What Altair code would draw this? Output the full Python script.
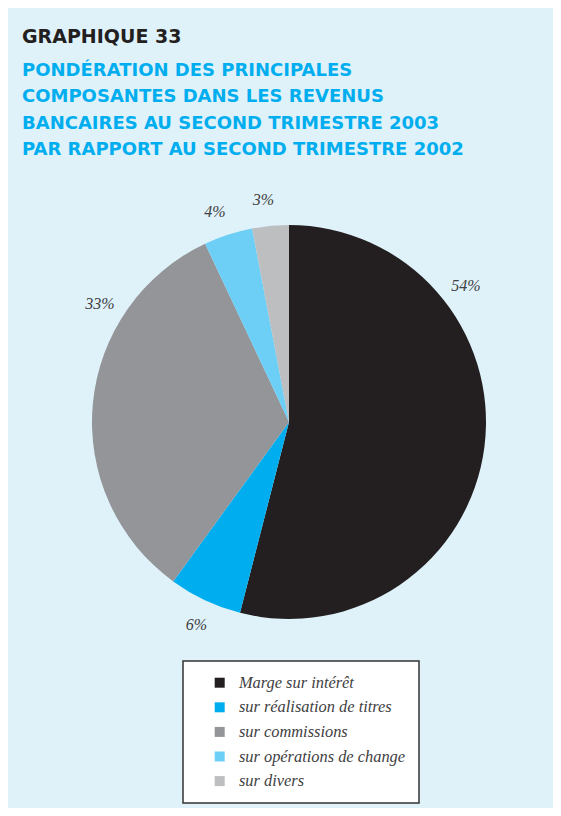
import altair as alt
import pandas as pd

# ---- data ----
categories = [
    "Marge sur intérêt",
    "sur réalisation de titres",
    "sur commissions",
    "sur opérations de change",
    "sur divers",
]
shares = [54, 6, 33, 4, 3]
share_labels = ["54%", "6%", "33%", "4%", "3%"]
colors = ["#231f20", "#00aeef", "#939598", "#6dcff6", "#bcbec0"]

title_text = "GRAPHIQUE 33"
subtitle_lines = [
    "PONDÉRATION DES PRINCIPALES",
    "COMPOSANTES DANS LES REVENUS",
    "BANCAIRES AU SECOND TRIMESTRE 2003",
    "PAR RAPPORT AU SECOND TRIMESTRE 2002",
]

# ---- layout (not data) ----
label_angle_deg = [52.5, 204.5, 302.0, 340.6, 353.4]
CX, CY, R = 281, 244, 197

df = pd.DataFrame({
    "cat": categories,
    "share": shares,
    "label": share_labels,
    "idx": list(range(len(categories))),
    "angle": label_angle_deg,
})

color = alt.Color(
    "cat:N",
    scale=alt.Scale(domain=categories, range=colors),
    sort=categories,
    legend=alt.Legend(
        title=None,
        orient="none",
        legendX=175,
        legendY=483,
        symbolType="square",
        symbolSize=100,
        symbolStrokeWidth=0,
        symbolOffset=15,
        labelOffset=11,
        labelFont="Liberation Serif",
        labelFontStyle="italic",
        labelFontSize=16.4,
        labelColor="#414042",
        labelLimit=400,
        rowPadding=7.6,
        padding=13.5,
        fillColor="#ffffff",
        strokeColor="#333333",
    ),
)

pie = alt.Chart(df).mark_arc(outerRadius=R).encode(
    theta=alt.Theta("share:Q", stack=True),
    order=alt.Order("idx:Q"),
    color=color,
    x=alt.value(CX),
    y=alt.value(CY),
)

text = alt.Chart(df).mark_text(
    font="Liberation Serif",
    fontStyle="italic",
    fontSize=16,
    color="#414042",
    align="center",
    baseline="middle",
).encode(
    theta=alt.Theta("angle:Q", scale=alt.Scale(domain=[0, 360], range=[0, 6.283185307]), stack=None),
    radius=alt.value(223),
    x=alt.value(CX),
    y=alt.value(CY),
    text="label:N",
)

chart = alt.layer(pie, text).resolve_scale(theta="independent").properties(
    width=545,
    height=630,
    background="#dff2fa",
    padding={"left": 0, "top": 170, "right": 0, "bottom": 0},
    autosize=alt.AutoSizeParams(type="none"),
    title=alt.TitleParams(
        text=title_text,
        subtitle=subtitle_lines,
        anchor="start",
        frame="group",
        dx=14,
        offset=19,
        font="DejaVu Sans",
        fontSize=19,
        fontWeight="bold",
        color="#231f20",
        subtitleFont="DejaVu Sans",
        subtitleFontSize=18,
        subtitleFontWeight="bold",
        subtitleColor="#00aeef",
        subtitleLineHeight=26.3,
        subtitlePadding=15,
    ),
).configure_view(stroke=None).configure_legend(strokeWidth=1.5)

chart.save("out.html", embed_options={"renderer": "svg", "actions": False})
